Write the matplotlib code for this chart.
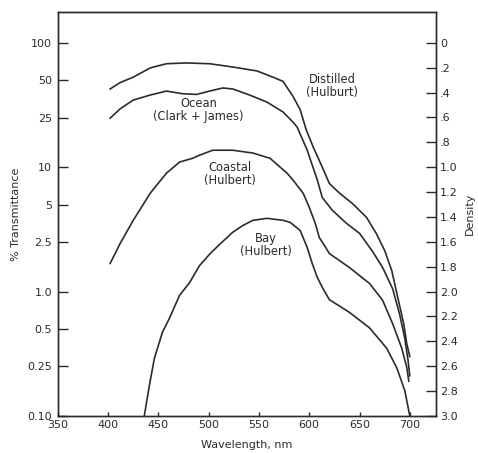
#Transmittance vs. wavelength for four kinds of water, with density scale on the right

import numpy as np
import matplotlib.pyplot as plt

###*******  DATA  *****************************###
distilled_nm = [402, 412, 425, 442, 458, 478, 501, 524, 548, 564, 574, 584, 591, 597, 604,
                613, 620, 630, 643, 657, 667, 675, 682, 688, 694, 697, 700]
distilled_T = [42.6, 48, 53, 63, 68, 69, 68, 64, 59.5, 53, 49, 37, 29, 20, 14.5,
               10, 7.4, 6.2, 5.1, 3.95, 2.9, 2.14, 1.48, 0.9, 0.55, 0.38, 0.3]

ocean_nm = [402, 412, 425, 442, 458, 474, 488, 501, 514, 524, 541, 558, 574, 584, 588,
            598, 608, 613, 623, 637, 650, 663, 673, 683, 690, 695, 698, 700]
ocean_T = [24.8, 29.5, 34.7, 38.1, 41, 39, 38.5, 41, 43.4, 42.6, 38, 33.4, 27.8, 23, 21,
           13.7, 7.9, 5.7, 4.5, 3.54, 2.94, 2.1, 1.56, 1.05, 0.65, 0.42, 0.29, 0.21]

coastal_nm = [402, 412, 425, 442, 458, 471, 484, 491, 504, 524, 544, 561, 578, 584, 594,
              600, 606, 610, 617, 620, 640, 660, 673, 683, 692, 697, 699]
coastal_T = [1.68, 2.44, 3.74, 6.2, 8.95, 11, 11.8, 12.5, 13.7, 13.7, 13, 11.8, 8.95, 7.86, 6.17,
             4.76, 3.54, 2.72, 2.22, 2.02, 1.56, 1.16, 0.85, 0.55, 0.35, 0.245, 0.19]

bay_nm = [436, 441, 446, 454, 461, 471, 481, 491, 501, 511, 524, 534, 544, 558, 574, 581,
          591, 598, 603, 608, 613, 620, 640, 660, 677, 687, 695, 700]
bay_T = [0.1, 0.175, 0.29, 0.47, 0.61, 0.93, 1.18, 1.62, 2.0, 2.4, 3.0, 3.4, 3.74, 3.88, 3.74, 3.6,
         3.1, 2.26, 1.68, 1.3, 1.08, 0.86, 0.68, 0.51, 0.35, 0.244, 0.16, 0.1]

# curve labels: text, wavelength, transmittance
labels = [("Distilled\n(Hulburt)", 623, 45),
          ("Ocean\n(Clark + James)", 490, 29),
          ("Coastal\n(Hulbert)", 521, 8.8),
          ("Bay\n(Hulbert)", 557, 2.35)]

x_ticks = [350, 400, 450, 500, 550, 600, 650, 700]
t_ticks = [100, 50, 25, 10, 5, 2.5, 1.0, 0.5, 0.25, 0.10]
t_tick_labels = ["100", "50", "25", "10", "5", "2.5", "1.0", "0.5", "0.25", "0.10"]
density_ticks = [0, 0.2, 0.4, 0.6, 0.8, 1.0, 1.2, 1.4, 1.6, 1.8, 2.0, 2.2, 2.4, 2.6, 2.8, 3.0]
density_labels = ["0", ".2", ".4", ".6", ".8", "1.0", "1.2", "1.4", "1.6", "1.8",
                  "2.0", "2.2", "2.4", "2.6", "2.8", "3.0"]

ink = "#2b2b2b"
plt.rcParams['font.family'] = ['DejaVu Sans']
plt.rcParams['font.size'] = 8

fig = plt.figure(figsize=(4.78, 4.53), dpi=100)
ax = fig.add_axes([0.121, 0.082, 0.791, 0.892])

for nm, T in [(distilled_nm, distilled_T), (ocean_nm, ocean_T),
              (coastal_nm, coastal_T), (bay_nm, bay_T)]:
    ax.plot(nm, T, color=ink, lw=1.2)

for txt, x, y in labels:
    ax.text(x, y, txt, ha='center', va='center', color=ink, fontsize=8.3, linespacing=1.0)

ax.set_yscale('log')
ax.set_xlim(350, 726)
ax.set_ylim(0.1, 178)
ax.set_xticks(x_ticks)
ax.set_yticks(t_ticks)
ax.set_yticklabels(t_tick_labels)
ax.minorticks_off()
ax.tick_params(axis='y', direction='in', length=7, width=1, colors=ink, pad=4)
ax.tick_params(axis='x', direction='in', length=3, width=1, colors=ink, pad=3)
ax.set_xlabel("Wavelength, nm", color=ink, labelpad=7)
ax.set_ylabel("% Transmittance", color=ink, labelpad=5)

#right axis in density units, D = -log10(T/100)
ax2 = ax.twinx()
ax2.set_yscale('log')
ax2.set_ylim(ax.get_ylim())
ax2.set_yticks([100 * 10 ** (-d) for d in density_ticks])
ax2.set_yticklabels(density_labels)
ax2.minorticks_off()
ax2.tick_params(axis='y', direction='in', length=7, width=1, colors=ink, pad=3)
ax2.set_ylabel("Density", color=ink, labelpad=5)

for a in (ax, ax2):
    for s in a.spines.values():
        s.set_color(ink)
        s.set_linewidth(1)

fig.savefig("out.png", dpi=100)
